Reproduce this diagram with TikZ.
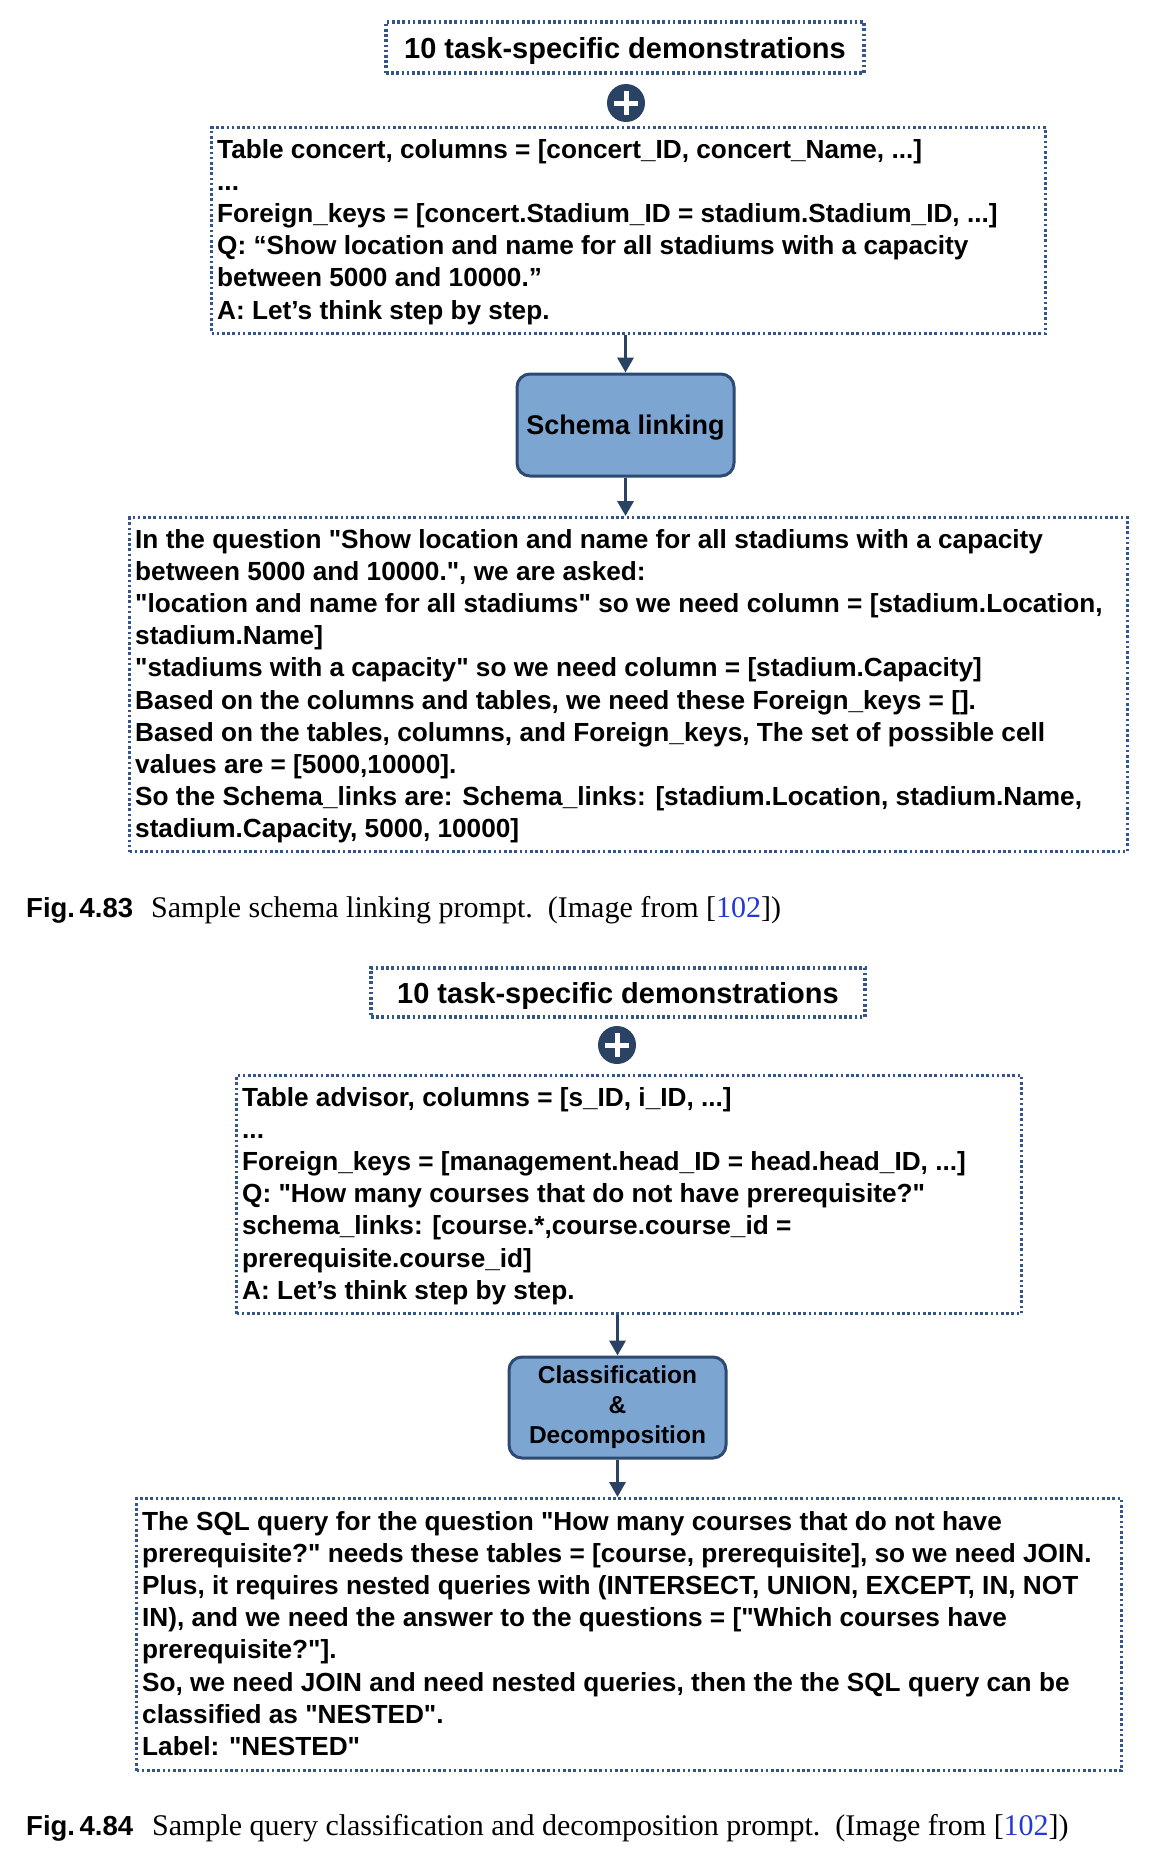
\documentclass[tikz,border=0pt]{standalone}
\usepackage{fontspec}
\setmainfont{Liberation Sans}[Ligatures=TeXOff]
\newfontfamily\capserif{Liberation Serif}[Ligatures=TeXOff]
\usetikzlibrary{arrows.meta}
\definecolor{dotc}{HTML}{34558A}
\definecolor{procf}{HTML}{7DA5D2}
\definecolor{procd}{HTML}{2C4A73}
\definecolor{arrc}{HTML}{2A4263}
\definecolor{linkc}{HTML}{2438D8}
\newcommand{\txtlines}[1]{\vtop{\baselineskip=32.2pt\lineskiplimit=-100pt\halign{##\hfil\cr#1\crcr}}}
\begin{document}
\begin{tikzpicture}[x=1pt,y=-1pt,
  dotbox/.style={draw=dotc, line width=3.2pt, dash pattern=on 2.6pt off 2.6pt, inner sep=0pt},
  proc/.style={draw=procd, fill=procf, line width=3pt, rounded corners=13pt, inner sep=0pt, align=center},
  txt/.style={anchor=base west, inner sep=0pt, font=\fontsize{26.2}{32.2}\selectfont\bfseries},
  flow/.style={draw=arrc, line width=3.4pt, -{Triangle[width=16pt,length=15pt]}},
  plusic/.style={circle, fill=arrc, minimum size=38pt, inner sep=0pt},
  figlab/.style={anchor=base west, inner sep=0pt, font=\fontsize{27.5}{30}\selectfont\bfseries},
  captxt/.style={anchor=base west, inner sep=0pt, font=\capserif\fontsize{30}{34}\selectfont}]
\fill[white] (0,0) rectangle (1150,1852);
\useasboundingbox (0,0) rectangle (1150,1852);

% ---------- first figure ----------
\node[dotbox, minimum width=478pt, minimum height=51pt, text depth=0pt, font=\fontsize{29}{32}\selectfont\bfseries] (demoA) at (625,47.5) {10 task-specific demonstrations};
\node[plusic] (plusA) at (626,103) {};
\draw[white, line width=5pt] ([xshift=-12pt]plusA.center) -- ([xshift=12pt]plusA.center);
\draw[white, line width=5pt] ([yshift=-12pt]plusA.center) -- ([yshift=12pt]plusA.center);

\node[dotbox, minimum width=834pt, minimum height=206pt, anchor=north west] (ctxA) at (210,126) {};
\node[txt] (ctxAt) at (217,158) {\txtlines{%
Table concert, columns = [concert\_ID, concert\_Name, ...]\cr
...\cr
Foreign\_keys = [concert.Stadium\_ID = stadium.Stadium\_ID, ...]\cr
Q: “Show location and name for all stadiums with a capacity\cr
between 5000 and 10000.”\cr
A: Let’s think step by step.}};

\node[proc, minimum width=217pt, minimum height=102pt, text depth=0pt, font=\fontsize{27}{30}\selectfont\bfseries] (schema) at (625.5,425) {Schema linking};

\node[dotbox, minimum width=998pt, minimum height=334pt, anchor=north west] (outA) at (128,516) {};
\node[txt] (outAt) at (135,548) {\txtlines{%
In the question "Show location and name for all stadiums with a capacity\cr
between 5000 and 10000.", we are asked:\cr
"location and name for all stadiums" so we need column = [stadium.Location,\cr
stadium.Name]\cr
"stadiums with a capacity" so we need column = [stadium.Capacity]\cr
Based on the columns and tables, we need these Foreign\_keys = [].\cr
Based on the tables, columns, and Foreign\_keys, The set of possible cell\cr
values are = [5000,10000].\cr
So the Schema\_links are: Schema\_links: [stadium.Location, stadium.Name,\cr
stadium.Capacity, 5000, 10000]}};

\draw[flow] (schema.north |- ctxA.south) -- (schema.north);
\draw[flow] (schema.south) -- (schema.south |- outA.north);

\node[figlab] (figA) at (26,917) {Fig.\,4.83};
\node[captxt] (capA) at (151,917) {Sample schema linking prompt.\ \ (Image from [\textcolor{linkc}{102}])};

% ---------- second figure ----------
\node[dotbox, minimum width=494pt, minimum height=49pt, text depth=0pt, font=\fontsize{29}{32}\selectfont\bfseries] (demoB) at (618,992.5) {10 task-specific demonstrations};
\node[plusic] (plusB) at (617,1045) {};
\draw[white, line width=5pt] ([xshift=-12pt]plusB.center) -- ([xshift=12pt]plusB.center);
\draw[white, line width=5pt] ([yshift=-12pt]plusB.center) -- ([yshift=12pt]plusB.center);

\node[dotbox, minimum width=785pt, minimum height=238pt, anchor=north west] (ctxB) at (235,1074) {};
\node[txt] (ctxBt) at (242,1106) {\txtlines{%
Table advisor, columns = [s\_ID, i\_ID, ...]\cr
...\cr
Foreign\_keys = [management.head\_ID = head.head\_ID, ...]\cr
Q: "How many courses that do not have prerequisite?"\cr
schema\_links: [course.*,course.course\_id =\cr
prerequisite.course\_id]\cr
A: Let’s think step by step.}};

\node[proc, minimum width=217pt, minimum height=101pt, font=\fontsize{24.5}{30}\selectfont\bfseries] (cls) at (617.5,1407.5) {Classification\\\&\\Decomposition};

\node[dotbox, minimum width=985pt, minimum height=272pt, anchor=north west] (outB) at (135,1497) {};
\node[txt] (outBt) at (142,1530) {\txtlines{%
The SQL query for the question "How many courses that do not have\cr
prerequisite?" needs these tables = [course, prerequisite], so we need JOIN.\cr
Plus, it requires nested queries with (INTERSECT, UNION, EXCEPT, IN, NOT\cr
IN), and we need the answer to the questions = ["Which courses have\cr
prerequisite?"].\cr
So, we need JOIN and need nested queries, then the the SQL query can be\cr
classified as "NESTED".\cr
Label: "NESTED"}};

\draw[flow] (cls.north |- ctxB.south) -- (cls.north);
\draw[flow] (cls.south) -- (cls.south |- outB.north);

\node[figlab] (figB) at (26,1835) {Fig.\,4.84};
\node[captxt] (capB) at (152,1835) {Sample query classification and decomposition prompt.\ \ (Image from [\textcolor{linkc}{102}])};
\end{tikzpicture}
\end{document}
